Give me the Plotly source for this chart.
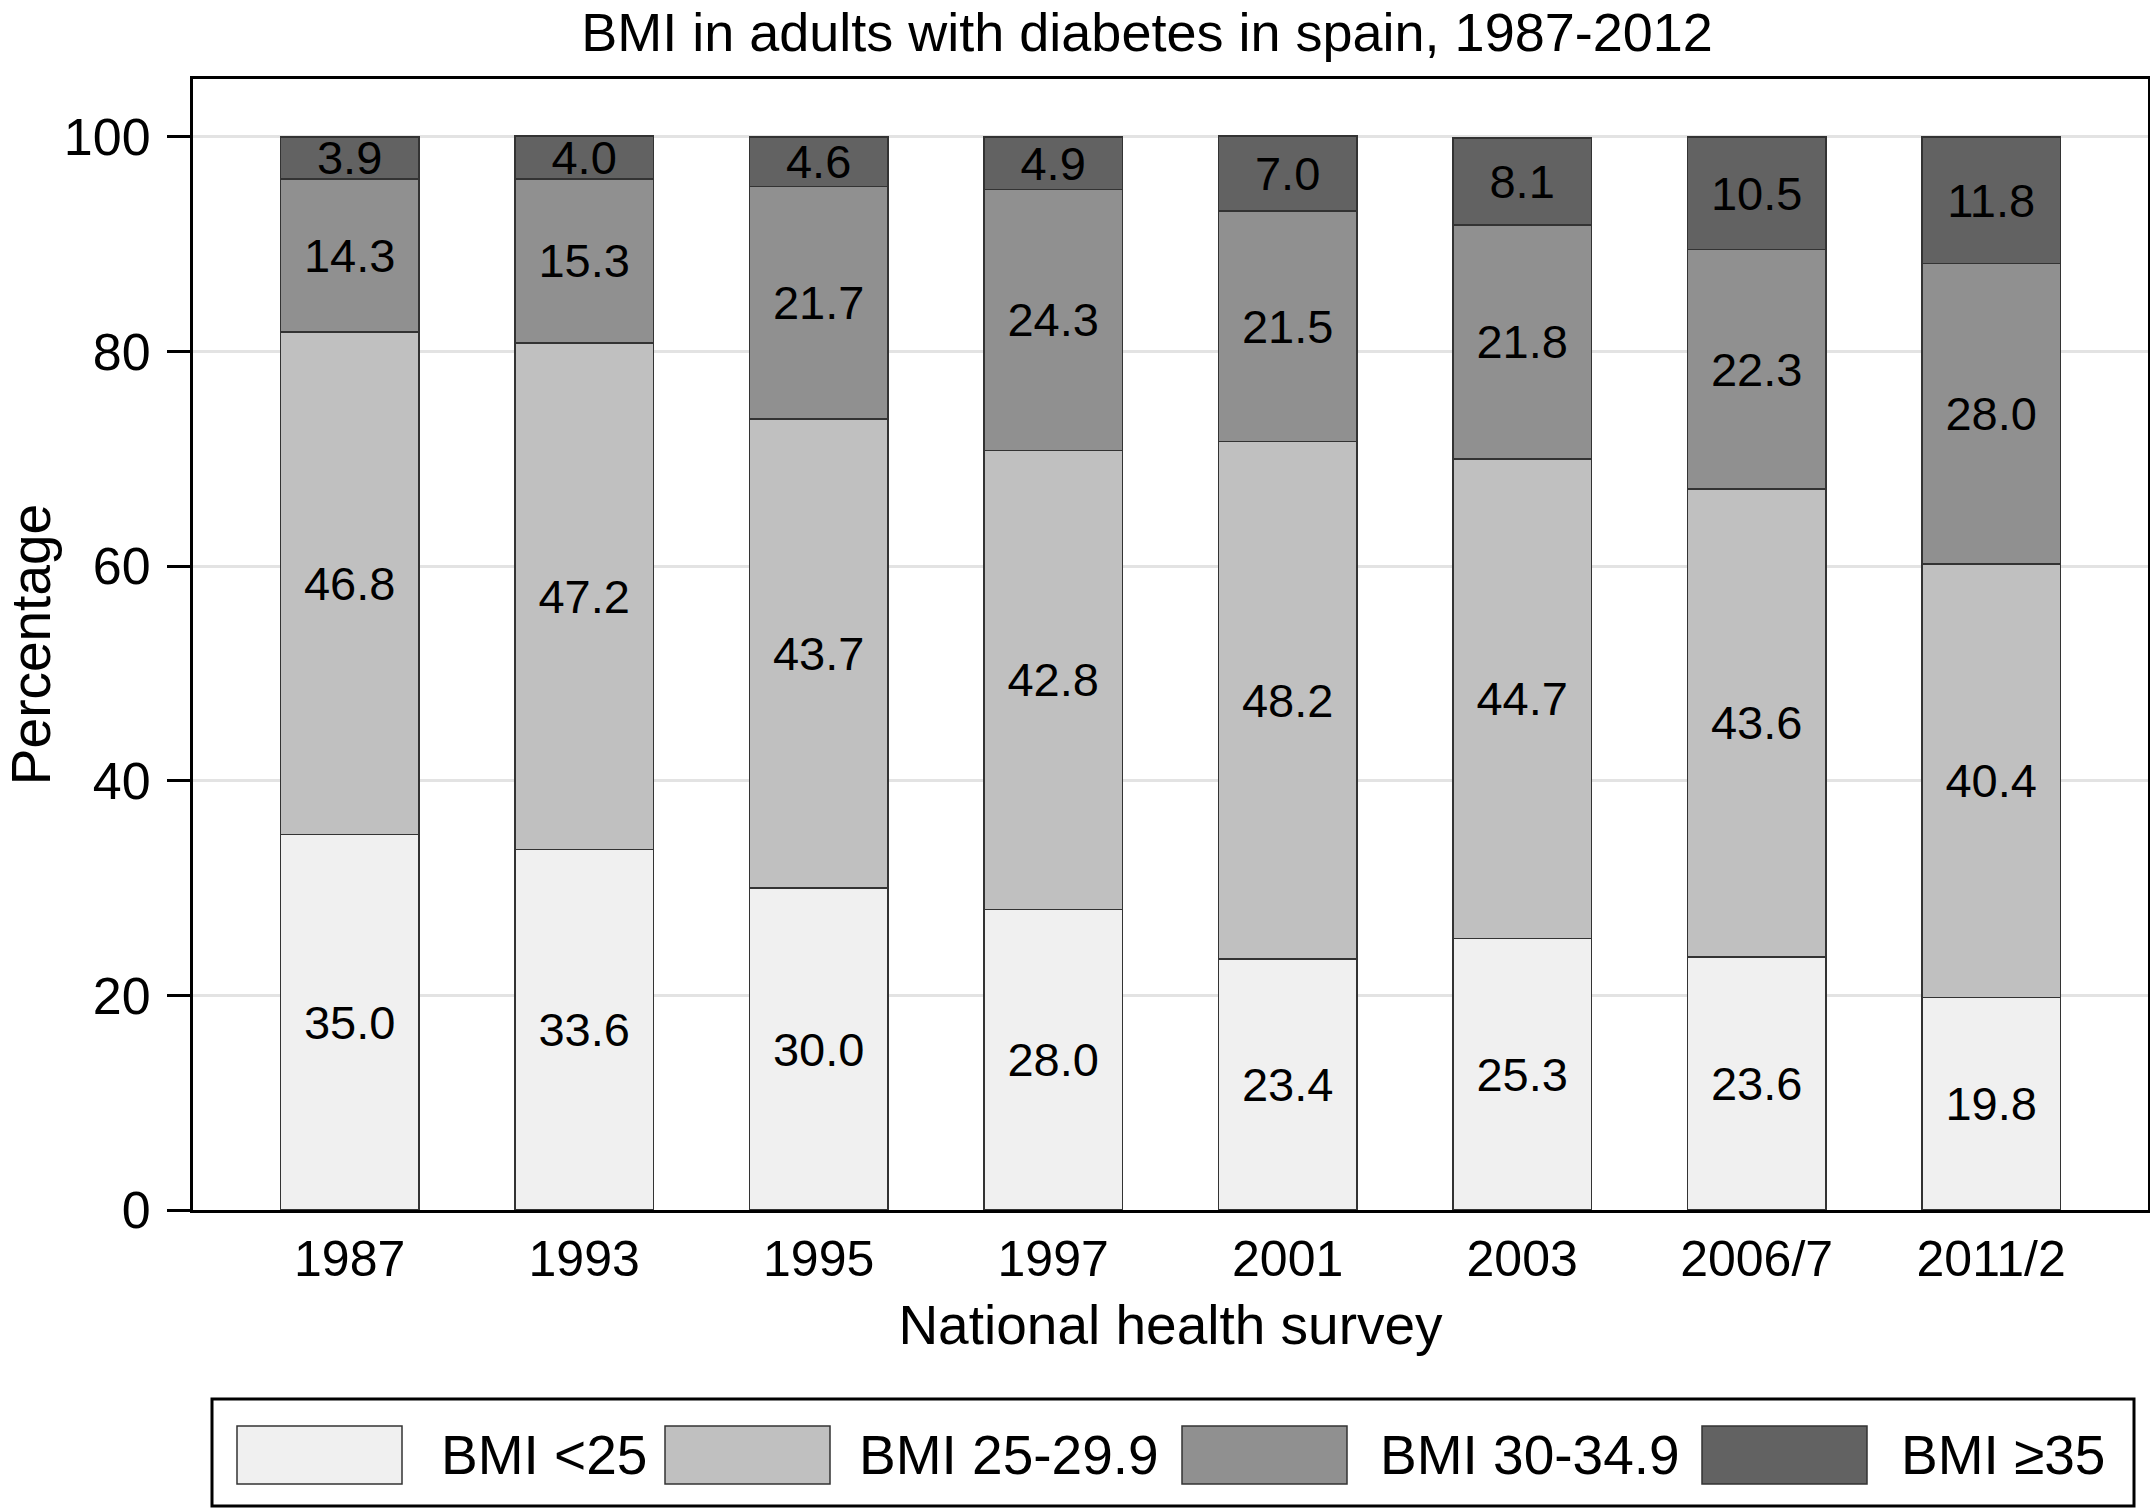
import plotly.graph_objects as go

# ---------------- data ----------------
surveys = ["1987", "1993", "1995", "1997", "2001", "2003", "2006/7", "2011/2"]
series_names = ["BMI <25", "BMI 25-29.9", "BMI 30-34.9", "BMI \u226535"]
bmi_lt25 = [35.0, 33.6, 30.0, 28.0, 23.4, 25.3, 23.6, 19.8]
bmi_25_299 = [46.8, 47.2, 43.7, 42.8, 48.2, 44.7, 43.6, 40.4]
bmi_30_349 = [14.3, 15.3, 21.7, 24.3, 21.5, 21.8, 22.3, 28.0]
bmi_ge35 = [3.9, 4.0, 4.6, 4.9, 7.0, 8.1, 10.5, 11.8]
y_ticks = [0, 20, 40, 60, 80, 100]

# ---------------- style ----------------
colors = ["#f0f0f0", "#c0c0c0", "#909090", "#626262"]
FONT = "Liberation Sans, Arial, Helvetica, sans-serif"
W, H = 2150, 1510
ML, MR, MT, MB = 193, 2, 79, 300
PW, PH = W - ML - MR, H - MT - MB


def px2x(px):
    return (px - ML) / PW


def py2y(py):
    return (MT + PH - py) / PH


fig = go.Figure()
for name, vals, col in zip(series_names, [bmi_lt25, bmi_25_299, bmi_30_349, bmi_ge35], colors):
    fig.add_trace(go.Bar(
        x=surveys, y=vals, name=name,
        marker=dict(color=col, line=dict(color="#333333", width=1.5)),
        text=[f"{v:.1f}" for v in vals],
        textposition="inside", insidetextanchor="middle",
        textangle=0, constraintext="none",
        textfont=dict(family=FONT, size=47, color="black"),
        showlegend=False, cliponaxis=False,
    ))

# ---------------- manual legend (layout decoration) ----------------
shapes = [dict(type="rect", xref="paper", yref="paper",
               x0=px2x(212), x1=px2x(2134), y0=py2y(1506), y1=py2y(1399),
               line=dict(color="black", width=3), fillcolor="white", layer="above")]
annotations = []
swatch_left = [237, 665, 1182, 1702]
text_left = [439, 857, 1378, 1899]
for name, col, sx, tx in zip(series_names, colors, swatch_left, text_left):
    shapes.append(dict(type="rect", xref="paper", yref="paper",
                       x0=px2x(sx), x1=px2x(sx + 165), y0=py2y(1484), y1=py2y(1426),
                       line=dict(color="#333333", width=1.5), fillcolor=col, layer="above"))
    annotations.append(dict(xref="paper", yref="paper", x=px2x(tx), y=py2y(1455),
                            text=name, showarrow=False, xanchor="left", yanchor="middle",
                            font=dict(family=FONT, size=55, color="black")))

fig.update_layout(
    width=W, height=H,
    margin=dict(l=ML, r=MR, t=MT, b=MB, autoexpand=False),
    barmode="stack", bargap=0.41,
    paper_bgcolor="white", plot_bgcolor="white",
    font=dict(family=FONT, color="black"),
    title=dict(text="BMI in adults with diabetes in spain, 1987-2012",
               font=dict(family=FONT, size=54, color="black"),
               x=px2x(1147), xref="paper", xanchor="center",
               y=1 - 32 / H, yref="container", yanchor="middle"),
    shapes=shapes, annotations=annotations,
    showlegend=False,
)
fig.update_xaxes(
    type="category", range=[-0.668, 7.669],
    showline=True, linecolor="black", linewidth=3, mirror=True,
    ticks="", ticklabelstandoff=3, showgrid=False,
    tickfont=dict(family=FONT, size=50, color="black"),
    title=dict(text="National health survey", standoff=20,
               font=dict(family=FONT, size=55, color="black")),
)
fig.update_yaxes(
    range=[0, 105.4], tickvals=y_ticks, ticktext=[str(t) for t in y_ticks],
    showline=True, linecolor="black", linewidth=3, mirror=True,
    ticks="outside", ticklen=23, tickwidth=3, tickcolor="black",
    ticklabelstandoff=6,
    showgrid=True, gridcolor="#e3e3e3", gridwidth=3, zeroline=False,
    tickfont=dict(family=FONT, size=52, color="black"),
    title=dict(text="Percentage", standoff=18,
               font=dict(family=FONT, size=55, color="black")),
)

fig.write_html("out.html", config={"displayModeBar": False},
               post_script="document.body.style.margin='0';document.body.style.overflow='hidden';")
